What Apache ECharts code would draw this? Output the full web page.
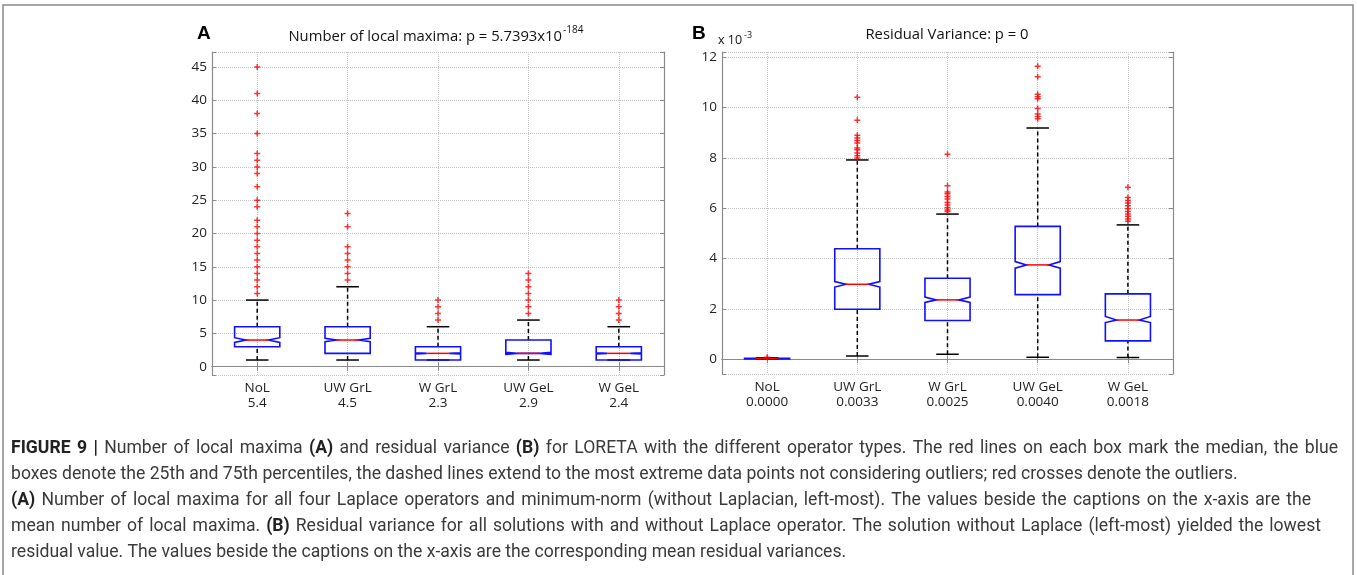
<!DOCTYPE html>
<html>
<head>
<meta charset="utf-8">
<script src="https://cdn.jsdelivr.net/npm/echarts@6/dist/echarts.min.js"></script>
<style>
html,body{margin:0;padding:0;background:#fff;}
#chart{width:1357px;height:575px;}
</style>
</head>
<body>
<div id="chart"></div>
<script>
// ---------------- DATA ----------------
const categories = ['NoL', 'UW GrL', 'W GrL', 'UW GeL', 'W GeL'];
const meansA = ['5.4', '4.5', '2.3', '2.9', '2.4'];
const meansB = ['0.0000', '0.0033', '0.0025', '0.0040', '0.0018'];

// Panel A: number of local maxima
const aLow     = [1, 1, 1, 1, 1];
const aQ1      = [3, 2, 1, 2, 1];
const aMedian  = [4, 4, 2, 2, 2];
const aQ3      = [6, 6, 3, 4, 3];
const aHigh    = [10, 12, 6, 7, 6];
const aNotchLo = [3.65, 3.75, 1.9, 1.85, 1.9];
const aNotchHi = [4.35, 4.25, 2.1, 2.15, 2.1];
const aOutliers = [
  [11, 12, 13, 14, 15, 16, 17, 18, 19, 20, 21, 22, 24, 25, 27, 29, 30, 31, 32, 35, 38, 41, 45],
  [13, 14, 15, 16, 17, 18, 21, 23],
  [7, 8, 9, 10],
  [8, 9, 10, 11, 12, 13, 14],
  [7, 8, 9, 10]
];
const aTicks = [0, 5, 10, 15, 20, 25, 30, 35, 40, 45];

// Panel B: residual variance (values in units of 10^-3)
const bLow     = [0.00, 0.13, 0.20, 0.08, 0.07];
const bQ1      = [0.01, 1.99, 1.54, 2.57, 0.73];
const bMedian  = [0.03, 2.98, 2.36, 3.75, 1.56];
const bQ3      = [0.04, 4.39, 3.22, 5.28, 2.60];
const bHigh    = [0.06, 7.92, 5.77, 9.19, 5.34];
const bNotchLo = [0.025, 2.87, 2.26, 3.62, 1.46];
const bNotchHi = [0.035, 3.09, 2.47, 3.88, 1.70];
const bOutliers = [
  [0.08],
  [10.41, 9.50, 8.90, 8.79, 8.69, 8.59, 8.40, 8.33, 8.20, 8.09, 8.00],
  [8.15, 6.90, 6.65, 6.58, 6.47, 6.37, 6.23, 6.13, 6.02, 5.93, 5.87],
  [11.64, 11.23, 10.53, 10.43, 10.35, 9.96, 9.75, 9.65, 9.56],
  [6.84, 6.43, 6.31, 6.21, 6.10, 5.98, 5.87, 5.77, 5.68, 5.57, 5.48]
];
const bTicks = [0, 2, 4, 6, 8, 10, 12];

const captionLines = [
  '{b|FIGURE 9 |} Number of local maxima {b|(A)} and residual variance {b|(B)} for LORETA with the different operator types. The red lines on each box mark the median, the blue',
  'boxes denote the 25th and 75th percentiles, the dashed lines extend to the most extreme data points not considering outliers; red crosses denote the outliers.',
  '{b|(A)} Number of local maxima for all four Laplace operators and minimum-norm (without Laplacian, left-most). The values beside the captions on the x-axis are the',
  'mean number of local maxima. {b|(B)} Residual variance for all solutions with and without Laplace operator. The solution without Laplace (left-most) yielded the lowest',
  'residual value. The values beside the captions on the x-axis are the corresponding mean residual variances.'
];
// right edge each caption line reaches (null = natural word spacing)
const captionRightEdge = [1338, null, 1311, 1321, null];

// ---------------- BUILD ----------------
function boxData(low, q1, med, q3, high, nlo, nhi) {
  return categories.map((c, i) => [i, low[i], q1[i], med[i], q3[i], high[i], nlo[i], nhi[i]]);
}
function outlierData(out) {
  const d = [];
  out.forEach((arr, i) => arr.forEach(v => d.push([i, v])));
  return d;
}

function renderBox(params, api) {
  const i = api.value(0);
  const low = api.value(1), q1 = api.value(2), med = api.value(3),
        q3 = api.value(4), high = api.value(5), nlo = api.value(6), nhi = api.value(7);
  const band = api.size([1, 0])[0];
  const w = band * 0.5;
  const cx = api.coord([i, med])[0];
  const y = v => api.coord([i, v])[1];
  const L = cx - w / 2, R = cx + w / 2, q = w / 4;
  const dash = { stroke: '#000', lineWidth: 1.5, lineDash: [4, 3], fill: null };
  const solid = { stroke: '#000', lineWidth: 1.5, fill: null };
  return {
    type: 'group',
    children: [
      { type: 'line', shape: { x1: cx, y1: y(q3), x2: cx, y2: y(high) }, style: dash },
      { type: 'line', shape: { x1: cx, y1: y(low), x2: cx, y2: y(q1) }, style: dash },
      { type: 'line', shape: { x1: cx - w / 4, y1: y(high), x2: cx + w / 4, y2: y(high) }, style: solid },
      { type: 'line', shape: { x1: cx - w / 4, y1: y(low), x2: cx + w / 4, y2: y(low) }, style: solid },
      { type: 'polygon', shape: { points: [
          [L, y(q3)], [L, y(nhi)], [L + q, y(med)], [L, y(nlo)], [L, y(q1)],
          [R, y(q1)], [R, y(nlo)], [R - q, y(med)], [R, y(nhi)], [R, y(q3)]
        ] }, style: { stroke: '#1010ff', lineWidth: 1.6, fill: null } },
      { type: 'line', shape: { x1: L + q, y1: y(med), x2: R - q, y2: y(med) }, style: { stroke: '#ff0000', lineWidth: 1.5 } }
    ]
  };
}

const plusSymbol = 'path://M3,0h2v3h3v2h-3v3h-2v-3h-3v-2h3z';
const labelFont = 'Open Sans';
const axisColor = '#8a8a8a';
const gridLine = { show: true, lineStyle: { type: 'dotted', color: '#c4c4c4', width: 1 } };

function xAxes(gridIndex, means) {
  return [
    {
      type: 'category', gridIndex: gridIndex, data: categories, boundaryGap: true, position: 'bottom',
      axisLine: { show: true, lineStyle: { color: axisColor, width: 1.2 } },
      axisTick: { show: true, inside: true, alignWithLabel: true, length: 4, lineStyle: { color: axisColor } },
      axisLabel: {
        formatter: (v, idx) => v + '\n' + means[idx],
        color: '#222', fontSize: 13.5, fontFamily: labelFont, lineHeight: 15, margin: 6
      },
      splitLine: Object.assign({ alignWithLabel: true }, gridLine)
    },
    {
      type: 'category', gridIndex: gridIndex, data: categories, boundaryGap: true, position: 'top',
      axisLine: { show: true, lineStyle: { color: axisColor, width: 1.2 } },
      axisTick: { show: true, inside: true, alignWithLabel: true, length: 4, lineStyle: { color: axisColor } },
      axisLabel: { show: false }, splitLine: { show: false }
    }
  ];
}
function yAxes(gridIndex, min, max, splitNumber, ticks) {
  const fmt = v => ticks.some(t => Math.abs(t - v) < 1e-9) ? String(v) : '';
  return [
    {
      type: 'value', gridIndex: gridIndex, min: min, max: max, splitNumber: splitNumber, position: 'left',
      axisLine: { show: true, lineStyle: { color: axisColor, width: 1.2 } },
      axisTick: { show: true, inside: true, length: 4, lineStyle: { color: axisColor } },
      axisLabel: { formatter: fmt, color: '#222', fontSize: 13.5, fontFamily: labelFont, margin: 5 },
      splitLine: gridLine
    },
    {
      type: 'value', gridIndex: gridIndex, min: min, max: max, splitNumber: splitNumber, position: 'right',
      axisLine: { show: true, lineStyle: { color: axisColor, width: 1.2 } },
      axisTick: { show: true, inside: true, length: 4, lineStyle: { color: axisColor } },
      axisLabel: { show: false }, splitLine: { show: false }
    }
  ];
}

// ---- caption: word layout ----
const capFamily = 'Roboto';
const mctx = document.createElement('canvas').getContext('2d');
mctx.font = '16px ' + capFamily;
let capSize = 16 * 1226 / mctx.measureText(captionLines[1]).width;
capSize = Math.round(capSize * 10) / 10;
const capLeft = 11;
const capY = [449, 475, 501, 527, 553];

function parseWords(line) {
  const words = [];
  line.split(/(\{b\|[^}]*\})/).forEach(seg => {
    if (!seg) return;
    const m = seg.match(/^\{b\|([^}]*)\}$/);
    const bold = !!m;
    const txt = m ? m[1] : seg;
    txt.split(' ').filter(w => w.length).forEach(w => words.push({ t: w, b: bold }));
  });
  return words;
}
const captionGraphics = [];
captionLines.forEach((line, k) => {
  const words = parseWords(line);
  const widths = words.map(w => {
    mctx.font = (w.b ? 'bold ' : '') + capSize + 'px ' + capFamily;
    return mctx.measureText(w.t).width;
  });
  mctx.font = capSize + 'px ' + capFamily;
  const spaceW = mctx.measureText(' ').width;
  const total = widths.reduce((a, b) => a + b, 0);
  const right = captionRightEdge[k];
  let gap = right ? (right - capLeft - total) / (words.length - 1) : spaceW;
  if (gap < spaceW) gap = spaceW;
  let x = capLeft;
  words.forEach((w, j) => {
    captionGraphics.push({
      type: 'text', x: x, y: capY[k], silent: true,
      style: {
        text: w.t, fontSize: capSize, fontFamily: capFamily, fontWeight: w.b ? 'bold' : 'normal',
        fill: w.b ? '#222' : '#3a3a3a', align: 'left', verticalAlign: 'middle'
      }
    });
    x += widths[j] + gap;
  });
});

const titleFont = { fontFamily: 'Open Sans', fill: '#111' };

const option = {
  backgroundColor: '#ffffff',
  animation: false,
  grid: [
    { left: 212, top: 52, width: 452, height: 323 },
    { left: 722, top: 52, width: 451, height: 322 }
  ],
  xAxis: [].concat(xAxes(0, meansA), xAxes(1, meansB)),
  yAxis: [].concat(yAxes(0, -1.25, 47.25, 10, aTicks), yAxes(1, -0.585, 12.21, 6, bTicks)),
  series: [
    {
      type: 'custom', xAxisIndex: 0, yAxisIndex: 0, renderItem: renderBox,
      data: boxData(aLow, aQ1, aMedian, aQ3, aHigh, aNotchLo, aNotchHi),
      encode: { x: 0, y: [1, 2, 3, 4, 5] }, z: 3
    },
    {
      type: 'scatter', xAxisIndex: 0, yAxisIndex: 0, data: outlierData(aOutliers),
      symbol: plusSymbol, symbolSize: 6, itemStyle: { color: '#ff0000' }, z: 4, silent: true
    },
    {
      type: 'custom', xAxisIndex: 2, yAxisIndex: 2, renderItem: renderBox,
      data: boxData(bLow, bQ1, bMedian, bQ3, bHigh, bNotchLo, bNotchHi),
      encode: { x: 0, y: [1, 2, 3, 4, 5] }, z: 3
    },
    {
      type: 'scatter', xAxisIndex: 2, yAxisIndex: 2, data: outlierData(bOutliers),
      symbol: plusSymbol, symbolSize: 6, itemStyle: { color: '#ff0000' }, z: 4, silent: true
    }
  ],
  graphic: [
    { type: 'polyline', silent: true, shape: { points: [[3, 575], [3, 5], [1353, 5], [1353, 575]] },
      style: { stroke: '#8a8a8a', lineWidth: 1.5, fill: null } },
    { type: 'text', x: 197, y: 34, silent: true,
      style: { text: 'A', fontSize: 19, fontWeight: 'bold', fontFamily: 'Liberation Sans', fill: '#000', align: 'left', verticalAlign: 'middle' } },
    { type: 'text', x: 562, y: 37, silent: true,
      style: Object.assign({ text: 'Number of local maxima: p = 5.7393x10', fontSize: 14.8, align: 'right', verticalAlign: 'middle' }, titleFont) },
    { type: 'text', x: 563, y: 30, silent: true,
      style: Object.assign({ text: '-184', fontSize: 10, align: 'left', verticalAlign: 'middle' }, titleFont) },
    { type: 'text', x: 692, y: 34, silent: true,
      style: { text: 'B', fontSize: 19, fontWeight: 'bold', fontFamily: 'Liberation Sans', fill: '#000', align: 'left', verticalAlign: 'middle' } },
    { type: 'text', x: 718, y: 40, silent: true,
      style: Object.assign({ text: 'x 10', fontSize: 12.5, align: 'left', verticalAlign: 'middle' }, titleFont) },
    { type: 'text', x: 744, y: 35, silent: true,
      style: Object.assign({ text: '-3', fontSize: 9, align: 'left', verticalAlign: 'middle' }, titleFont) },
    { type: 'text', x: 947, y: 35, silent: true,
      style: Object.assign({ text: 'Residual Variance: p = 0', fontSize: 14.8, align: 'center', verticalAlign: 'middle' }, titleFont) }
  ].concat(captionGraphics)
};

const chart = echarts.init(document.getElementById('chart'), null, { renderer: 'canvas' });
chart.setOption(option);
</script>
</body>
</html>
